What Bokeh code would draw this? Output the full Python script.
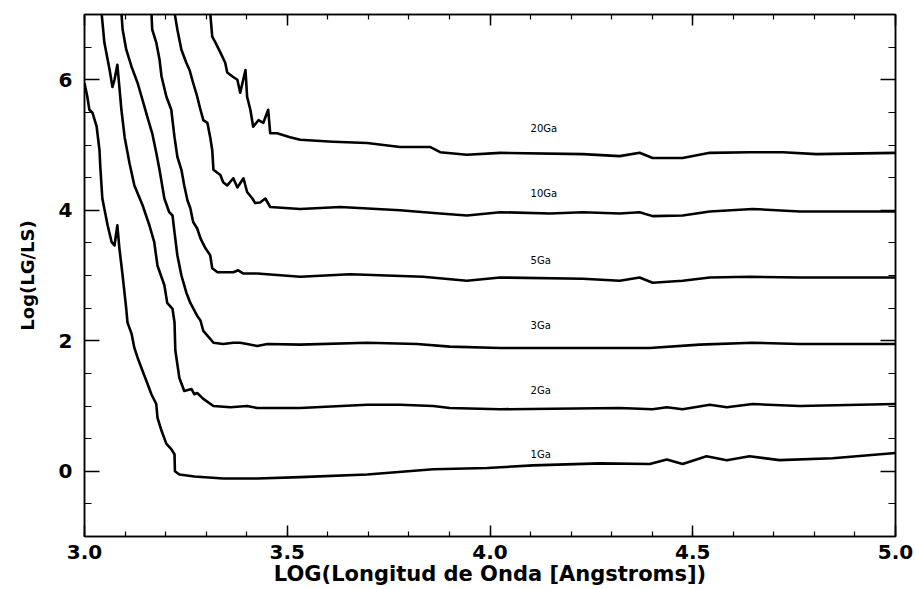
from bokeh.plotting import figure
from bokeh.models import LinearAxis, SingleIntervalTicker, CustomJSTickFormatter, PrintfTickFormatter, Range1d
from bokeh.embed import file_html
from bokeh.resources import INLINE
from bokeh.core.properties import value

# ---- data ----
x_1ga = [3.000, 3.007, 3.012, 3.020, 3.030, 3.037, 3.039, 3.044, 3.057, 3.067, 3.074, 3.081, 3.086,
         3.094, 3.103, 3.106, 3.116, 3.123, 3.131, 3.143, 3.153, 3.165, 3.177, 3.180, 3.190, 3.202,
         3.214, 3.222, 3.223, 3.234, 3.271, 3.342, 3.426, 3.532, 3.697, 3.860, 3.993, 4.106, 4.271,
         4.394, 4.436, 4.475, 4.534, 4.584, 4.640, 4.714, 4.845, 5.000]
y_1ga = [5.95, 5.74, 5.54, 5.49, 5.28, 4.92, 4.66, 4.18, 3.77, 3.51, 3.46, 3.77, 3.42,
         3.00, 2.49, 2.28, 2.11, 1.89, 1.74, 1.54, 1.38, 1.18, 1.03, 0.82, 0.62, 0.42,
         0.34, 0.26, 0.00, -0.05, -0.08, -0.11, -0.11, -0.09, -0.05, 0.03, 0.05, 0.09, 0.12,
         0.11, 0.18, 0.11, 0.23, 0.17, 0.23, 0.17, 0.20, 0.28]

x_2ga = [3.042, 3.049, 3.062, 3.069, 3.074, 3.081, 3.086, 3.091, 3.099, 3.111, 3.123, 3.143, 3.160,
         3.172, 3.180, 3.197, 3.204, 3.217, 3.222, 3.224, 3.234, 3.246, 3.264, 3.271, 3.278, 3.293,
         3.318, 3.360, 3.401, 3.426, 3.532, 3.697, 3.778, 3.860, 3.901, 4.025, 4.320, 4.401, 4.436,
         4.475, 4.542, 4.584, 4.648, 4.764, 5.000]
y_2ga = [7.03, 6.57, 6.15, 5.89, 6.00, 6.23, 5.89, 5.54, 5.12, 4.72, 4.38, 4.08, 3.77,
         3.51, 3.15, 2.85, 2.58, 2.49, 2.28, 1.85, 1.43, 1.23, 1.26, 1.18, 1.20, 1.11,
         1.00, 0.98, 1.00, 0.97, 0.97, 1.02, 1.02, 1.00, 0.97, 0.95, 0.97, 0.95, 0.98,
         0.95, 1.02, 0.98, 1.03, 1.00, 1.03]

x_3ga = [3.091, 3.094, 3.103, 3.116, 3.131, 3.143, 3.155, 3.167, 3.177, 3.185, 3.197, 3.209, 3.217,
         3.222, 3.229, 3.239, 3.251, 3.261, 3.278, 3.286, 3.293, 3.310, 3.318, 3.342, 3.367, 3.384,
         3.401, 3.426, 3.451, 3.532, 3.697, 3.820, 3.901, 4.025, 4.320, 4.394, 4.517, 4.648, 4.764,
         5.000]
y_3ga = [7.03, 6.77, 6.46, 6.20, 5.95, 5.69, 5.43, 5.18, 4.88, 4.62, 4.18, 3.97, 3.92,
         3.66, 3.31, 3.00, 2.74, 2.58, 2.38, 2.31, 2.15, 2.03, 1.97, 1.95, 1.97, 1.97,
         1.95, 1.92, 1.95, 1.94, 1.97, 1.95, 1.91, 1.89, 1.89, 1.89, 1.94, 1.97, 1.95,
         1.95]

x_5ga = [3.165, 3.167, 3.177, 3.185, 3.190, 3.202, 3.214, 3.217, 3.222, 3.229, 3.239, 3.246, 3.254,
         3.261, 3.268, 3.278, 3.286, 3.298, 3.310, 3.315, 3.328, 3.367, 3.379, 3.392, 3.426, 3.532,
         3.655, 3.835, 3.943, 4.025, 4.229, 4.320, 4.369, 4.401, 4.475, 4.542, 4.640, 4.764, 5.000]
y_5ga = [7.03, 6.77, 6.57, 6.31, 6.05, 5.74, 5.54, 5.38, 5.12, 4.82, 4.62, 4.38, 4.15,
         4.03, 3.82, 3.72, 3.57, 3.42, 3.31, 3.11, 3.05, 3.05, 3.08, 3.03, 3.03, 2.98,
         3.02, 2.98, 2.92, 2.97, 2.95, 2.92, 2.97, 2.89, 2.92, 2.97, 2.98, 2.97, 2.97]

x_10ga = [3.222, 3.229, 3.239, 3.251, 3.259, 3.268, 3.278, 3.286, 3.293, 3.303, 3.310, 3.315, 3.318,
          3.335, 3.342, 3.352, 3.367, 3.377, 3.392, 3.401, 3.414, 3.421, 3.433, 3.446, 3.458, 3.532,
          3.631, 3.778, 3.877, 3.943, 4.025, 4.148, 4.229, 4.320, 4.369, 4.401, 4.475, 4.542, 4.648,
          4.764, 5.000]
y_10ga = [7.03, 6.77, 6.46, 6.26, 6.15, 5.95, 5.74, 5.54, 5.38, 5.34, 5.12, 4.92, 4.62,
          4.54, 4.43, 4.38, 4.49, 4.35, 4.49, 4.28, 4.18, 4.11, 4.12, 4.18, 4.05, 4.02,
          4.05, 4.00, 3.95, 3.92, 3.97, 3.95, 3.97, 3.95, 3.97, 3.91, 3.92, 3.98, 4.02,
          3.98, 3.98]

x_20ga = [3.310, 3.315, 3.323, 3.335, 3.347, 3.352, 3.365, 3.377, 3.384, 3.397, 3.401, 3.409, 3.416,
          3.429, 3.441, 3.453, 3.458, 3.475, 3.507, 3.532, 3.613, 3.697, 3.778, 3.852, 3.877, 3.943,
          4.025, 4.229, 4.320, 4.369, 4.401, 4.475, 4.542, 4.640, 4.722, 4.805, 5.000]
y_20ga = [7.03, 6.66, 6.57, 6.42, 6.26, 6.11, 6.05, 6.00, 5.80, 6.15, 5.74, 5.54, 5.28,
          5.38, 5.34, 5.54, 5.18, 5.18, 5.12, 5.08, 5.05, 5.03, 4.97, 4.97, 4.89, 4.85,
          4.88, 4.86, 4.83, 4.88, 4.80, 4.80, 4.88, 4.89, 4.89, 4.86, 4.88]

series_x = [x_1ga, x_2ga, x_3ga, x_5ga, x_10ga, x_20ga]
series_y = [y_1ga, y_2ga, y_3ga, y_5ga, y_10ga, y_20ga]

label_text = ["20Ga", "10Ga", "5Ga", "3Ga", "2Ga", "1Ga"]
label_x = [4.10, 4.10, 4.10, 4.10, 4.10, 4.10]
label_y = [5.26, 4.25, 3.23, 2.23, 1.23, 0.25]

x_title = "LOG(Longitud de Onda [Angstroms])"
y_title = "Log(LG/LS)"

FONT = "DejaVu Sans"

p = figure(width=915, height=589, x_range=Range1d(3.0, 5.0), y_range=Range1d(-1, 7),
           output_backend="svg", toolbar_location=None,
           min_border_left=84, min_border_right=20, min_border_top=14, min_border_bottom=53)
p.xgrid.visible = False
p.ygrid.visible = False
p.outline_line_color = "black"
p.outline_line_width = 1.5
p.background_fill_color = "white"
p.border_fill_color = "white"

for xs, ys in zip(series_x, series_y):
    p.line(xs, ys, line_color="black", line_width=2.6, line_join="round")

p.text(x=label_x, y=label_y, text=label_text, text_font=value(FONT), text_font_size="10px",
       text_color="black", text_baseline="middle", text_align="left")


def style(ax, is_x, labels=True):
    if is_x:
        ax.ticker = SingleIntervalTicker(interval=0.5, num_minor_ticks=5)
        ax.major_tick_in = 11
        ax.minor_tick_in = 5
    else:
        ax.ticker = SingleIntervalTicker(interval=2, num_minor_ticks=4)
        ax.major_tick_in = 15
        ax.minor_tick_in = 7
    ax.major_tick_out = 0
    ax.minor_tick_out = 0
    ax.axis_line_color = "black"
    ax.axis_line_width = 1.5
    ax.major_tick_line_color = "black"
    ax.minor_tick_line_color = "black"
    ax.major_tick_line_width = 1.5
    ax.minor_tick_line_width = 1.2
    ax.major_label_text_color = "black"
    ax.axis_label_text_color = "black"
    if not labels:
        ax.formatter = CustomJSTickFormatter(code="return ''")
        ax.major_label_standoff = 0
        ax.major_label_text_font_size = "1px"


style(p.xaxis[0], True)
style(p.yaxis[0], False)

xa = p.xaxis[0]
xa.formatter = PrintfTickFormatter(format="%.1f")
xa.major_label_text_font = FONT
xa.major_label_text_font_style = "bold"
xa.major_label_text_font_size = "20px"
xa.major_label_standoff = 8
xa.axis_label = x_title
xa.axis_label_text_font = FONT
xa.axis_label_text_font_style = "bold"
xa.axis_label_text_font_size = "21px"
xa.axis_label_standoff = 0

ya = p.yaxis[0]
ya.formatter = PrintfTickFormatter(format="%d")
ya.major_label_text_font = FONT
ya.major_label_text_font_style = "bold"
ya.major_label_text_font_size = "20px"
ya.major_label_standoff = 12
ya.major_label_orientation = "horizontal"
ya.axis_label = y_title
ya.axis_label_text_font = FONT
ya.axis_label_text_font_style = "bold"
ya.axis_label_text_font_size = "18px"
ya.axis_label_standoff = 18

top = LinearAxis()
style(top, True, labels=False)
p.add_layout(top, "above")
right = LinearAxis()
style(right, False, labels=False)
p.add_layout(right, "right")

open("out.html", "w").write(file_html(p, INLINE))
